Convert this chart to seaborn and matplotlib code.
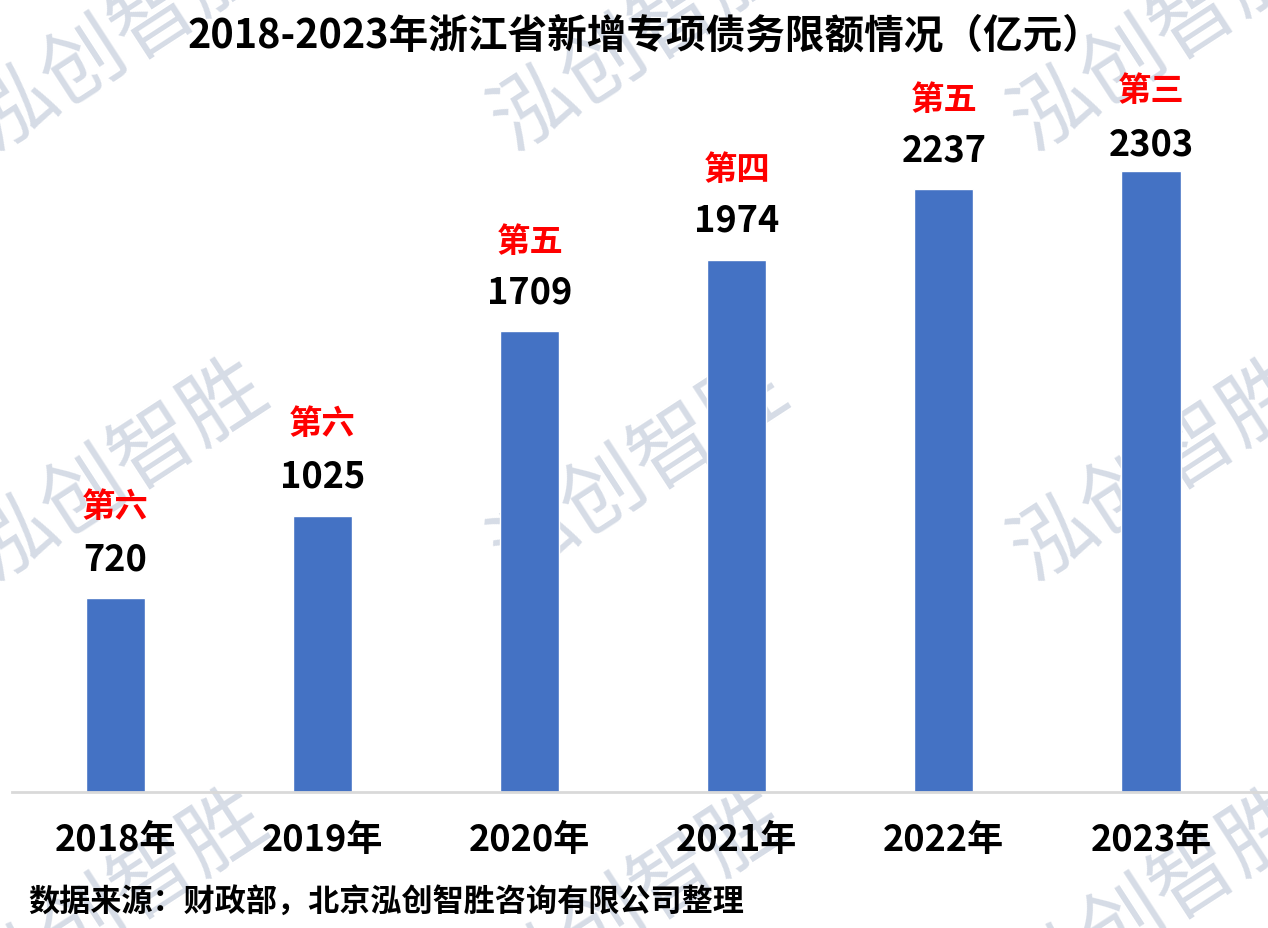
import matplotlib
matplotlib.use("Agg")
import matplotlib.pyplot as plt
import seaborn as sns
import pandas as pd

years = ["2018年", "2019年", "2020年", "2021年", "2022年", "2023年"]
values = [720, 1025, 1709, 1974, 2237, 2303]
ranks = ["第六", "第六", "第五", "第四", "第五", "第三"]
title = "2018-2023年浙江省新增专项债务限额情况（亿元）"
source = "数据来源：财政部，北京泓创智胜咨询有限公司整理"
watermark = "泓创智胜"

# label offsets above bar top (pixels) - style
value_off = [39, 40, 39, 40, 39, 27]
rank_off = [91, 92, 90, 90, 89, 80]

sns.set_theme(style="white")
plt.rcParams['font.family'] = ['Noto Sans CJK SC', 'DejaVu Sans']

W, H = 1268, 929
fig = plt.figure(figsize=(W / 100, H / 100), dpi=100)
fig.patch.set_facecolor("white")

# watermarks (behind everything)
for wx in [120, 640, 1160]:
    for wy in [40, 470, 900]:
        fig.text(wx / W, 1 - wy / H, watermark, fontsize=60, color="#D6DCE6",
                 rotation=33, ha="center", va="center", zorder=-1)

ax = fig.add_axes([12 / W, 1 - 793 / H, 1 - 12 / W, (793 - 60) / H])
ax.set_zorder(1)
ax.patch.set_alpha(0)
df = pd.DataFrame({"year": years, "value": values})
sns.barplot(data=df, x="year", y="value", color="#4472C4", saturation=1,
            width=0.285, ax=ax, zorder=2)

ax.set_xlim(-0.5, 5.565)
ax.set_ylim(0, 733 / (621 / 2303))
ax.set_xlabel("")
ax.set_ylabel("")
ax.set_yticks([])
for s in ["top", "right", "left"]:
    ax.spines[s].set_visible(False)
ax.spines["bottom"].set_color("#D9D9D9")
ax.spines["bottom"].set_linewidth(2)
ax.tick_params(axis="x", length=0, pad=21)
for lab in ax.get_xticklabels():
    lab.set_fontsize(26)
    lab.set_fontweight("bold")
    lab.set_color("black")

for i, (v, r) in enumerate(zip(values, ranks)):
    ax.annotate(str(v), (i, v), xytext=(0, value_off[i] * 0.72),
                textcoords="offset points", ha="center", va="center",
                fontsize=26, fontweight="bold", color="black")
    ax.annotate(r, (i, v), xytext=(0, rank_off[i] * 0.72),
                textcoords="offset points", ha="center", va="center",
                fontsize=24, fontweight="bold", color="#FF0000")

fig.text(645 / W, 1 - 36 / H, title, fontsize=28.5, fontweight="bold",
         ha="center", va="center", color="black", zorder=5)
fig.text(28 / W, 1 - 903 / H, source, fontsize=22.4, fontweight="bold",
         ha="left", va="center", color="black", zorder=5)

fig.savefig("out.png", dpi=100, facecolor="white")
